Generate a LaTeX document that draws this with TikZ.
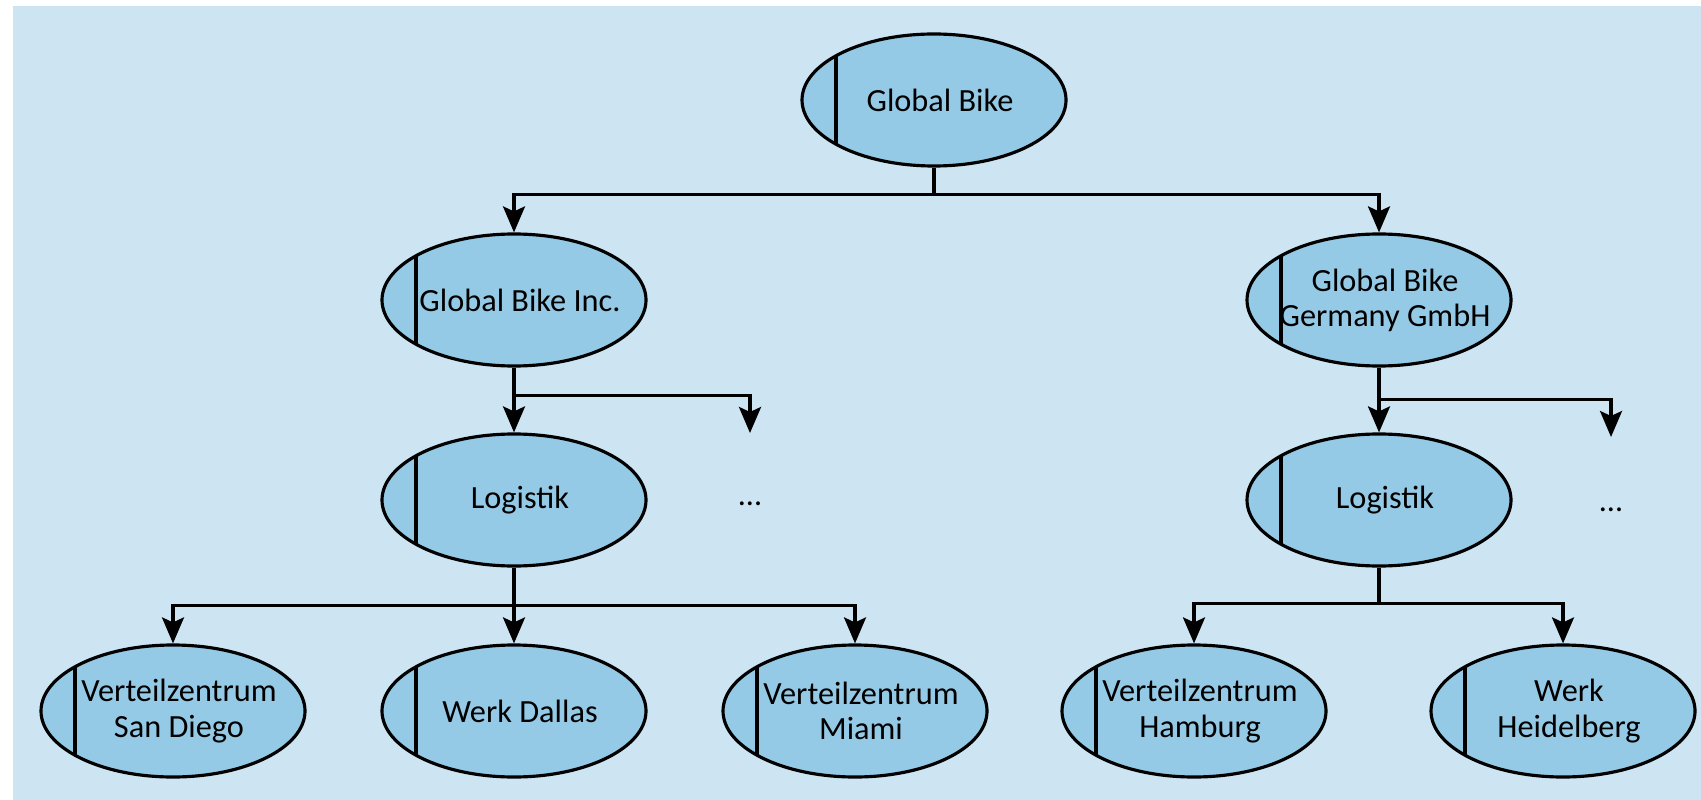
\documentclass[tikz,border=0pt]{standalone}
\usepackage{fontspec}
\setmainfont{Carlito}
\usetikzlibrary{arrows.meta,shapes.geometric}

\definecolor{bgblue}{RGB}{205,228,242}
\definecolor{orgfill}{RGB}{149,202,230}

\begin{document}
\begin{tikzpicture}[
  >={Stealth[length=2.6mm,width=2.2mm,inset=0.5mm]},
  font=\fontsize{9.2}{10}\selectfont,
  org/.style={ellipse,draw,line width=0.9pt,fill=orgfill,
    minimum width=2.64cm,minimum height=1.32cm,inner sep=0pt,
    path picture={\draw[line width=0.9pt]
      ([xshift=3.4mm]path picture bounding box.north west) --
      ([xshift=3.4mm]path picture bounding box.south west);}},
  orgtext/.style={align=center,xshift=0.6mm},
  conn/.style={->,line width=0.9pt}
]

% -------------------------
% Geometry
% -------------------------
\def\xTop{9.34}
\def\xInc{5.14}
\def\xGer{13.79}
\def\xSan{1.73}
\def\xMia{8.55}
\def\xHam{11.94}
\def\xHei{15.63}
\def\xMoreL{7.50}
\def\xMoreR{16.11}

\def\yRowZero{-1.00}
\def\yRowOne{-3.00}
\def\yRowTwo{-5.00}
\def\yRowThree{-7.11}

% background
\fill[bgblue] (0.13,-0.06) rectangle (17.01,-8.00);
\useasboundingbox (0,0) rectangle (17.01,-8.00);

% -------------------------
% Nodes
% -------------------------
\node[org] (gb) at (\xTop,\yRowZero) {};
\node[orgtext] (gb-t) at (gb) {Global Bike};

\node[org] (inc) at (\xInc,\yRowOne) {};
\node[orgtext] (inc-t) at (inc) {Global Bike Inc.};
\node[org] (ger) at (\xGer,\yRowOne) {};
\node[orgtext] (ger-t) at (ger) {Global Bike\\Germany GmbH};

\node[org] (logL) at (\xInc,\yRowTwo) {};
\node[orgtext] (logL-t) at (logL) {Logistik};
\node (moreL-t) at (\xMoreL,-5.04) {…};
\node[org] (logR) at (\xGer,\yRowTwo) {};
\node[orgtext] (logR-t) at (logR) {Logistik};
\node (moreR-t) at (\xMoreR,-5.10) {…};

\node[org] (san) at (\xSan,\yRowThree) {};
\node[orgtext] (san-t) at (san) {Verteilzentrum\\San Diego};
\node[org] (dal) at (\xInc,\yRowThree) {};
\node[orgtext] (dal-t) at (dal) {Werk Dallas};
\node[org] (mia) at (\xMia,\yRowThree) {};
\node[orgtext] (mia-t) at (mia) {Verteilzentrum\\Miami};
\node[org] (ham) at (\xHam,\yRowThree) {};
\node[orgtext] (ham-t) at (ham) {Verteilzentrum\\Hamburg};
\node[org] (hei) at (\xHei,\yRowThree) {};
\node[orgtext] (hei-t) at (hei) {Werk\\Heidelberg};

% free ends of the "more" arrows
\coordinate (moreL) at (\xMoreL,-4.33);
\coordinate (moreR) at (\xMoreR,-4.37);

% -------------------------
% Connectors
% -------------------------
\draw[conn] (gb.south) -- ++(0,-0.27) -| (inc.north);
\draw[conn] (gb.south) -- ++(0,-0.27) -| (ger.north);

\draw[conn] (inc.south) -- (logL.north);
\draw[conn] (inc.south) -- ++(0,-0.28) -| (moreL);
\draw[conn] (ger.south) -- (logR.north);
\draw[conn] (ger.south) -- ++(0,-0.32) -| (moreR);

\foreach \v in {san,dal,mia} {
  \draw[conn] (logL.south) -- ++(0,-0.38) -| (\v.north);
}
\foreach \v in {ham,hei} {
  \draw[conn] (logR.south) -- ++(0,-0.36) -| (\v.north);
}

\end{tikzpicture}
\end{document}
